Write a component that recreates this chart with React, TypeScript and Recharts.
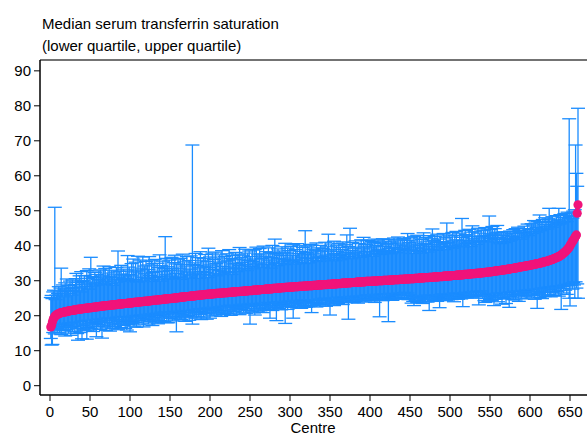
import React from "react";
import { ScatterChart, Scatter, XAxis, YAxis, ErrorBar, ReferenceLine } from "recharts";

// Median serum transferrin saturation per centre (sorted)
const median: number[] = [
  16.8, 17.3, 18.2, 18.9, 19.4, 19.8, 20.0, 20.2, 20.4, 20.5,
  20.6, 20.7, 20.8, 20.9, 20.9, 21.0, 21.0, 21.1, 21.1, 21.2,
  21.2, 21.3, 21.3, 21.4, 21.4, 21.5, 21.5, 21.5, 21.6, 21.6,
  21.7, 21.7, 21.7, 21.8, 21.8, 21.8, 21.9, 21.9, 21.9, 22.0,
  22.0, 22.0, 22.1, 22.1, 22.1, 22.2, 22.2, 22.2, 22.3, 22.3,
  22.3, 22.3, 22.4, 22.4, 22.4, 22.5, 22.5, 22.5, 22.6, 22.6,
  22.6, 22.7, 22.7, 22.7, 22.7, 22.8, 22.8, 22.8, 22.9, 22.9,
  22.9, 22.9, 23.0, 23.0, 23.0, 23.0, 23.1, 23.1, 23.1, 23.1,
  23.2, 23.2, 23.2, 23.2, 23.3, 23.3, 23.3, 23.3, 23.4, 23.4,
  23.4, 23.4, 23.5, 23.5, 23.5, 23.5, 23.6, 23.6, 23.6, 23.6,
  23.7, 23.7, 23.7, 23.7, 23.8, 23.8, 23.8, 23.8, 23.9, 23.9,
  23.9, 23.9, 24.0, 24.0, 24.0, 24.0, 24.1, 24.1, 24.1, 24.1,
  24.2, 24.2, 24.2, 24.2, 24.3, 24.3, 24.3, 24.4, 24.4, 24.4,
  24.4, 24.5, 24.5, 24.5, 24.5, 24.6, 24.6, 24.6, 24.6, 24.7,
  24.7, 24.7, 24.7, 24.8, 24.8, 24.8, 24.8, 24.9, 24.9, 24.9,
  24.9, 25.0, 25.0, 25.0, 25.0, 25.1, 25.1, 25.1, 25.1, 25.2,
  25.2, 25.2, 25.3, 25.3, 25.3, 25.3, 25.4, 25.4, 25.4, 25.4,
  25.5, 25.5, 25.5, 25.5, 25.6, 25.6, 25.6, 25.6, 25.7, 25.7,
  25.7, 25.7, 25.8, 25.8, 25.8, 25.8, 25.9, 25.9, 25.9, 25.9,
  26.0, 26.0, 26.0, 26.0, 26.1, 26.1, 26.1, 26.1, 26.2, 26.2,
  26.2, 26.2, 26.2, 26.3, 26.3, 26.3, 26.3, 26.4, 26.4, 26.4,
  26.4, 26.4, 26.5, 26.5, 26.5, 26.5, 26.5, 26.6, 26.6, 26.6,
  26.6, 26.6, 26.7, 26.7, 26.7, 26.7, 26.7, 26.8, 26.8, 26.8,
  26.8, 26.8, 26.9, 26.9, 26.9, 26.9, 26.9, 27.0, 27.0, 27.0,
  27.0, 27.0, 27.1, 27.1, 27.1, 27.1, 27.1, 27.2, 27.2, 27.2,
  27.2, 27.2, 27.2, 27.3, 27.3, 27.3, 27.3, 27.3, 27.4, 27.4,
  27.4, 27.4, 27.4, 27.5, 27.5, 27.5, 27.5, 27.5, 27.6, 27.6,
  27.6, 27.6, 27.6, 27.7, 27.7, 27.7, 27.7, 27.7, 27.8, 27.8,
  27.8, 27.8, 27.8, 27.9, 27.9, 27.9, 27.9, 27.9, 28.0, 28.0,
  28.0, 28.0, 28.0, 28.1, 28.1, 28.1, 28.1, 28.1, 28.2, 28.2,
  28.2, 28.2, 28.2, 28.2, 28.3, 28.3, 28.3, 28.3, 28.3, 28.3,
  28.4, 28.4, 28.4, 28.4, 28.4, 28.4, 28.5, 28.5, 28.5, 28.5,
  28.5, 28.5, 28.6, 28.6, 28.6, 28.6, 28.6, 28.6, 28.7, 28.7,
  28.7, 28.7, 28.7, 28.7, 28.8, 28.8, 28.8, 28.8, 28.8, 28.8,
  28.9, 28.9, 28.9, 28.9, 28.9, 28.9, 29.0, 29.0, 29.0, 29.0,
  29.0, 29.0, 29.1, 29.1, 29.1, 29.1, 29.1, 29.1, 29.2, 29.2,
  29.2, 29.2, 29.2, 29.2, 29.3, 29.3, 29.3, 29.3, 29.3, 29.3,
  29.4, 29.4, 29.4, 29.4, 29.4, 29.4, 29.5, 29.5, 29.5, 29.5,
  29.5, 29.5, 29.6, 29.6, 29.6, 29.6, 29.6, 29.6, 29.7, 29.7,
  29.7, 29.7, 29.7, 29.7, 29.8, 29.8, 29.8, 29.8, 29.8, 29.8,
  29.8, 29.8, 29.9, 29.9, 29.9, 29.9, 29.9, 29.9, 29.9, 30.0,
  30.0, 30.0, 30.0, 30.0, 30.0, 30.0, 30.1, 30.1, 30.1, 30.1,
  30.1, 30.1, 30.1, 30.2, 30.2, 30.2, 30.2, 30.2, 30.2, 30.3,
  30.3, 30.3, 30.3, 30.3, 30.3, 30.3, 30.4, 30.4, 30.4, 30.4,
  30.4, 30.4, 30.5, 30.5, 30.5, 30.5, 30.5, 30.5, 30.5, 30.6,
  30.6, 30.6, 30.6, 30.6, 30.6, 30.7, 30.7, 30.7, 30.7, 30.7,
  30.7, 30.8, 30.8, 30.8, 30.8, 30.8, 30.8, 30.9, 30.9, 30.9,
  30.9, 30.9, 30.9, 31.0, 31.0, 31.0, 31.0, 31.0, 31.0, 31.1,
  31.1, 31.1, 31.1, 31.1, 31.1, 31.2, 31.2, 31.2, 31.2, 31.2,
  31.2, 31.3, 31.3, 31.3, 31.3, 31.3, 31.3, 31.4, 31.4, 31.4,
  31.4, 31.4, 31.5, 31.5, 31.5, 31.5, 31.5, 31.6, 31.6, 31.6,
  31.6, 31.6, 31.7, 31.7, 31.7, 31.7, 31.7, 31.8, 31.8, 31.8,
  31.8, 31.8, 31.9, 31.9, 31.9, 31.9, 32.0, 32.0, 32.0, 32.0,
  32.0, 32.1, 32.1, 32.1, 32.1, 32.2, 32.2, 32.2, 32.2, 32.3,
  32.3, 32.3, 32.3, 32.4, 32.4, 32.4, 32.5, 32.5, 32.5, 32.5,
  32.6, 32.6, 32.6, 32.7, 32.7, 32.7, 32.8, 32.8, 32.8, 32.9,
  32.9, 32.9, 33.0, 33.0, 33.0, 33.1, 33.1, 33.1, 33.2, 33.2,
  33.2, 33.3, 33.3, 33.3, 33.4, 33.4, 33.5, 33.5, 33.5, 33.6,
  33.6, 33.7, 33.7, 33.7, 33.8, 33.8, 33.9, 33.9, 34.0, 34.0,
  34.0, 34.1, 34.1, 34.2, 34.2, 34.3, 34.3, 34.3, 34.4, 34.4,
  34.5, 34.5, 34.6, 34.6, 34.7, 34.7, 34.8, 34.8, 34.9, 34.9,
  35.0, 35.0, 35.1, 35.1, 35.2, 35.3, 35.3, 35.4, 35.4, 35.5,
  35.6, 35.6, 35.7, 35.8, 35.9, 35.9, 36.0, 36.1, 36.2, 36.3,
  36.4, 36.5, 36.6, 36.7, 36.8, 36.9, 37.0, 37.2, 37.3, 37.5,
  37.7, 37.9, 38.1, 38.3, 38.5, 38.8, 39.0, 39.3, 39.6, 40.0,
  40.4, 40.8, 41.2, 41.5, 41.9, 42.3, 42.7, 43.1, 49.3, 51.7,
];

// Lower quartile per centre
const lowerQuartile: number[] = [
  13.5, 11.6, 11.8, 15.2, 16.0, 14.8, 15.9, 16.4, 15.1, 17.0,
  16.9, 15.3, 17.5, 14.6, 16.2, 17.8, 15.8, 16.6, 14.2, 17.1,
  16.1, 17.4, 15.0, 18.0, 16.7, 14.4, 17.3, 15.6, 16.9, 18.2,
  15.4, 17.6, 16.3, 14.9, 13.0, 17.9, 16.8, 15.2, 18.4, 13.4,
  17.2, 16.0, 18.5, 15.7, 17.4, 13.3, 16.6, 18.8, 15.9, 17.7,
  16.4, 18.1, 17.0, 15.5, 18.9, 16.2, 17.8, 14.0, 18.3, 16.9,
  17.5, 19.0, 16.1, 18.6, 13.6, 17.3, 19.2, 16.8, 18.0, 15.8,
  18.2, 16.5, 19.4, 17.1, 15.6, 18.7, 17.9, 16.3, 19.1, 17.6,
  16.9, 18.9, 17.4, 19.6, 16.0, 18.3, 17.7, 19.8, 16.6, 18.5,
  18.0, 17.2, 19.5, 16.4, 18.8, 15.9, 19.3, 17.5, 18.6, 15.4,
  19.0, 17.8, 18.4, 20.1, 17.0, 19.7, 18.1, 16.7, 19.9, 18.6,
  17.4, 19.6, 18.8, 20.3, 17.9, 19.2, 16.8, 20.0, 18.5, 19.4,
  18.9, 20.4, 17.6, 19.8, 18.3, 20.6, 19.1, 17.2, 20.2, 18.7,
  19.5, 18.0, 20.7, 19.0, 17.7, 20.1, 18.6, 19.9, 21.0, 18.2,
  20.3, 19.3, 18.4, 21.1, 19.7, 18.0, 20.5, 18.0, 19.6, 20.8,
  19.2, 20.9, 18.5, 20.2, 19.8, 21.3, 18.8, 15.4, 20.6, 19.4,
  20.7, 19.1, 21.2, 18.9, 20.4, 19.6, 21.5, 20.0, 18.4, 20.9,
  19.8, 21.4, 20.1, 18.7, 21.0, 19.4, 20.8, 17.6, 21.6, 19.9,
  20.5, 21.8, 19.3, 20.9, 22.0, 19.7, 21.2, 20.3, 18.9, 21.7,
  21.0, 19.6, 22.1, 20.6, 21.9, 19.0, 20.8, 22.3, 21.4, 19.3,
  21.6, 20.2, 22.4, 21.1, 19.9, 22.0, 20.7, 20.2, 21.8, 22.6,
  20.9, 22.2, 21.5, 19.8, 22.7, 21.3, 20.4, 22.5, 21.0, 22.9,
  21.9, 20.6, 22.8, 21.4, 23.0, 20.1, 22.3, 21.7, 20.8, 22.6,
  21.2, 22.9, 20.5, 22.1, 23.2, 21.6, 20.3, 22.7, 21.8, 23.1,
  22.4, 21.0, 23.3, 22.0, 20.7, 23.0, 21.5, 22.8, 23.4, 17.6,
  22.6, 21.3, 23.5, 22.0, 20.8, 20.2, 23.2, 21.7, 22.9, 21.1,
  23.1, 22.2, 21.4, 23.6, 22.5, 20.9, 23.3, 22.0, 21.6, 23.8,
  22.3, 23.0, 21.8, 23.7, 19.3, 22.7, 23.4, 21.5, 22.9, 23.9,
  21.9, 23.5, 18.6, 22.4, 23.8, 22.1, 23.2, 24.0, 21.7, 23.3,
  22.8, 24.1, 23.0, 17.8, 22.6, 23.6, 21.8, 24.2, 22.9, 23.4,
  23.7, 22.4, 24.3, 19.3, 23.1, 22.5, 24.4, 23.5, 22.2, 23.9,
  22.7, 24.0, 23.3, 22.1, 24.5, 23.7, 22.9, 24.2, 23.0, 22.4,
  24.1, 23.4, 22.6, 24.6, 23.8, 22.8, 20.9, 23.6, 24.3, 23.0,
  23.9, 24.6, 22.5, 23.5, 24.8, 23.2, 22.8, 24.4, 23.7, 24.9,
  23.1, 24.2, 25.0, 23.6, 22.7, 24.7, 23.9, 24.4, 23.3, 20.2,
  24.5, 23.4, 25.1, 24.0, 22.9, 24.8, 23.7, 25.2, 24.1, 23.5,
  24.6, 25.3, 23.8, 24.3, 25.0, 23.2, 24.9, 25.4, 24.2, 23.7,
  24.4, 25.1, 19.0, 24.7, 23.9, 25.5, 24.0, 25.2, 24.6, 23.8,
  25.3, 24.1, 25.6, 24.8, 23.6, 25.0, 24.5, 25.7, 24.2, 25.4,
  24.3, 25.8, 24.9, 23.9, 25.5, 24.7, 26.0, 25.1, 24.4, 25.9,
  25.0, 24.2, 25.7, 24.6, 26.1, 23.8, 25.3, 24.9, 26.0, 24.5,
  25.4, 19.7, 24.8, 26.2, 25.1, 24.3, 25.9, 24.7, 26.3, 25.2,
  24.9, 26.0, 18.3, 25.5, 24.6, 26.4, 25.0, 24.4, 25.8, 26.1,
  25.6, 24.8, 26.3, 25.2, 26.5, 24.7, 25.9, 26.2, 25.0, 26.6,
  25.3, 26.4, 24.9, 26.7, 25.8, 25.1, 26.5, 24.6, 26.0, 25.7,
  24.8, 23.6, 25.5, 24.1, 22.9, 25.0, 24.4, 25.7, 23.8, 25.2,
  24.3, 25.5, 23.7, 24.9, 25.8, 23.5, 24.6, 25.3, 24.0, 25.9,
  24.7, 23.9, 25.4, 21.5, 25.0, 25.9, 24.2, 24.8, 25.6, 24.4,
  25.5, 24.6, 26.0, 24.1, 25.2, 25.7, 22.3, 24.9, 26.1, 24.5,
  25.1, 26.2, 24.7, 25.6, 24.3, 25.9, 25.4, 24.8, 26.3, 25.0,
  25.7, 24.6, 26.4, 25.3, 24.0, 26.0, 24.9, 26.5, 25.5, 24.7,
  26.1, 25.2, 26.6, 24.8, 25.8, 22.6, 26.3, 25.4, 26.7, 25.6,
  25.1, 26.5, 25.9, 25.0, 26.8, 25.6, 25.3, 26.9, 26.0, 25.5,
  26.6, 25.8, 25.4, 27.0, 26.2, 23.1, 26.7, 25.6, 27.1, 26.1,
  25.0, 26.1, 24.3, 23.8, 25.7, 24.9, 26.2, 24.1, 25.4, 24.6,
  25.8, 24.4, 26.3, 25.2, 22.9, 25.9, 24.7, 26.4, 25.3, 24.0,
  25.6, 26.5, 24.8, 25.9, 23.3, 25.2, 26.6, 24.9, 26.0, 23.5,
  26.1, 25.0, 26.7, 22.4, 25.5, 26.8, 25.3, 26.2, 24.6, 26.9,
  25.7, 24.5, 27.0, 25.9, 26.3, 24.1, 25.8, 27.1, 25.0, 26.4,
  26.0, 27.2, 25.4, 26.6, 27.3, 24.8, 26.9, 25.6, 27.4, 26.2,
  26.5, 25.1, 27.5, 25.8, 26.9, 24.7, 27.6, 26.0, 22.1, 27.0,
  26.3, 25.2, 27.8, 26.6, 24.9, 27.4, 25.9, 28.0, 25.5, 26.8,
  27.1, 25.7, 28.2, 26.0, 27.5, 25.4, 28.3, 26.7, 27.9, 25.8,
  27.7, 26.2, 28.5, 26.9, 28.1, 25.6, 28.6, 27.2, 21.8, 27.8,
  28.4, 26.5, 28.8, 27.3, 28.9, 26.1, 28.5, 29.0, 25.0, 22.8,
  28.7, 29.3, 27.6, 29.5, 28.8, 25.0, 29.7, 27.9, 29.1, 25.0,
];

// Upper quartile per centre
const upperQuartile: number[] = [
  25.2, 25.8, 24.9, 26.8, 27.3, 51.0, 24.6, 25.9, 27.1, 26.4,
  28.3, 25.7, 27.9, 33.6, 26.2, 28.8, 25.4, 27.6, 29.4, 26.9,
  30.5, 27.2, 28.6, 26.4, 29.9, 27.8, 25.9, 30.2, 28.1, 27.0,
  28.9, 30.6, 32.1, 27.3, 29.5, 28.2, 31.4, 26.8, 32.6, 29.8,
  30.1, 27.9, 31.5, 29.0, 28.4, 32.9, 30.7, 27.6, 33.4, 29.3,
  36.7, 29.6, 31.2, 28.5, 30.9, 32.4, 29.1, 31.8, 28.8, 30.4,
  32.8, 30.0, 33.1, 29.4, 31.6, 30.8, 34.2, 28.9, 33.5, 31.1,
  29.8, 32.2, 30.5, 34.0, 31.3, 29.2, 33.0, 30.9, 28.7, 32.5,
  31.7, 30.2, 33.8, 29.6, 38.5, 31.0, 32.7, 30.3, 34.4, 31.9,
  30.6, 33.3, 31.4, 29.9, 32.8, 30.7, 37.2, 31.8, 33.9, 30.1,
  31.4, 34.9, 29.8, 36.2, 32.5, 30.4, 35.3, 33.1, 29.6, 37.0,
  32.8, 30.2, 35.9, 33.6, 31.0, 36.8, 29.9, 34.2, 32.0, 35.5,
  30.7, 34.5, 33.2, 36.9, 31.5, 29.8, 35.7, 32.4, 34.9, 30.9,
  36.1, 32.6, 30.3, 35.0, 33.8, 31.2, 37.4, 29.9, 34.3, 32.7,
  35.6, 30.8, 33.5, 42.6, 31.7, 36.4, 34.0, 30.5, 35.9, 32.9,
  31.3, 36.7, 33.4, 30.6, 35.2, 37.3, 32.1, 34.8, 30.9, 36.0,
  33.6, 31.1, 36.4, 34.7, 30.4, 37.6, 32.8, 35.4, 31.7, 34.2,
  36.9, 32.5, 30.8, 35.8, 33.3, 37.1, 31.4, 68.8, 34.6, 32.2,
  35.1, 37.8, 31.9, 34.4, 36.6, 30.7, 33.7, 38.3, 32.6, 35.7,
  31.8, 36.3, 34.0, 37.5, 32.4, 35.5, 30.9, 39.3, 33.8, 36.8,
  34.5, 31.6, 37.9, 33.2, 36.1, 32.0, 38.2, 34.9, 31.4, 36.5,
  33.0, 37.4, 35.3, 31.9, 38.6, 34.1, 32.7, 36.9, 35.6, 33.4,
  37.7, 32.3, 35.9, 38.9, 33.6, 36.4, 31.8, 37.2, 34.8, 36.0,
  33.9, 38.1, 35.0, 32.6, 37.6, 34.4, 39.5, 33.1, 36.7, 35.2,
  37.3, 33.5, 36.2, 39.0, 34.7, 32.9, 37.9, 35.8, 38.5, 34.0,
  36.9, 34.2, 38.8, 35.5, 33.4, 38.9, 36.2, 39.6, 34.8, 37.4,
  35.1, 39.2, 33.8, 37.7, 36.4, 34.5, 39.9, 36.8, 33.9, 38.3,
  37.0, 34.7, 39.4, 35.9, 38.1, 33.6, 36.6, 40.1, 35.3, 37.8,
  41.9, 35.0, 37.6, 34.3, 39.1, 36.3, 38.5, 34.9, 37.2, 39.7,
  35.6, 38.0, 36.1, 40.7, 34.6, 37.9, 39.3, 35.8, 38.6, 36.5,
  39.8, 35.4, 37.3, 40.3, 36.0, 34.8, 38.9, 37.1, 40.6, 35.7,
  37.8, 40.0, 35.2, 38.4, 36.7, 39.5, 34.9, 37.6, 44.3, 38.1,
  36.3, 39.9, 37.4, 35.1, 40.4, 38.2, 40.2, 36.5, 39.0, 37.7,
  35.8, 38.7, 40.8, 36.6, 39.4, 37.0, 35.5, 40.1, 38.3, 36.9,
  39.2, 36.4, 38.8, 41.0, 37.3, 35.9, 39.7, 43.3, 36.8, 38.5,
  37.6, 40.5, 36.2, 39.0, 41.3, 37.8, 35.7, 40.0, 38.4, 36.6,
  40.7, 37.2, 39.5, 36.0, 38.9, 41.1, 37.5, 36.4, 40.3, 38.1,
  43.1, 36.9, 39.8, 37.7, 45.0, 38.6, 36.3, 40.9, 37.4, 39.3,
  38.0, 41.4, 36.8, 39.6, 37.9, 40.6, 38.5, 36.7, 41.7, 39.1,
  37.3, 42.4, 39.9, 37.1, 40.4, 38.3, 41.5, 37.6, 39.4, 40.8,
  38.2, 41.2, 37.0, 39.7, 40.9, 41.9, 37.8, 40.1, 38.7, 41.6,
  39.0, 37.5, 41.0, 38.4, 40.6, 42.0, 38.1, 39.8, 41.3, 37.9,
  40.3, 38.6, 41.8, 39.2, 40.7, 37.7, 41.1, 39.6, 38.3, 42.2,
  39.5, 41.4, 38.0, 40.8, 42.5, 38.9, 40.2, 41.7, 39.1, 40.5,
  41.9, 39.3, 42.1, 40.0, 38.7, 41.5, 43.5, 39.7, 40.9, 42.3,
  39.0, 41.6, 37.8, 40.5, 42.7, 38.6, 41.1, 39.4, 43.0, 40.2,
  38.4, 42.2, 40.0, 37.9, 41.8, 39.3, 43.7, 40.7, 38.8, 42.4,
  40.4, 38.2, 42.9, 39.7, 41.3, 38.9, 42.0, 44.8, 39.9, 41.5,
  42.6, 39.1, 40.9, 43.3, 38.7, 41.9, 40.3, 42.8, 39.6, 41.2,
  39.8, 43.5, 40.6, 38.9, 42.3, 46.5, 41.0, 39.5, 43.1, 40.8,
  42.5, 40.0, 43.8, 41.4, 39.3, 42.9, 40.5, 44.1, 41.7, 39.9,
  41.1, 43.6, 40.2, 42.4, 47.8, 39.7, 43.0, 41.5, 44.4, 40.6,
  43.2, 40.9, 42.6, 44.7, 41.3, 39.8, 43.9, 45.7, 42.0, 41.0,
  44.0, 41.6, 42.8, 40.4, 45.0, 42.2, 43.6, 41.2, 44.5, 42.7,
  41.5, 44.3, 42.5, 45.2, 43.0, 41.1, 44.8, 42.9, 48.5, 43.4,
  44.6, 42.1, 45.5, 43.3, 41.8, 44.9, 43.7, 42.4, 45.8, 43.9,
  41.0, 42.4, 40.6, 43.7, 41.2, 42.9, 44.0, 41.8, 40.9, 43.3,
  42.1, 44.0, 41.3, 42.8, 44.2, 41.6, 43.5, 42.6, 44.6, 41.9,
  44.0, 44.9, 42.3, 43.6, 45.3, 42.8, 44.4, 41.9, 43.8, 44.0,
  42.5, 43.7, 45.6, 43.1, 44.9, 43.4, 46.2, 42.9, 44.7, 44.1,
  44.6, 46.3, 43.5, 45.9, 47.2, 44.1, 46.8, 45.2, 43.9, 47.0,
  45.4, 48.8, 44.3, 46.6, 45.0, 47.5, 44.7, 46.1, 48.0, 45.6,
  46.9, 44.8, 47.7, 50.7, 45.5, 47.1, 46.0, 48.3, 45.3, 46.7,
  47.6, 45.9, 48.6, 46.4, 47.3, 50.7, 46.2, 48.9, 47.0, 46.5,
  48.1, 46.8, 49.2, 47.4, 48.7, 46.9, 49.6, 47.8, 76.3, 48.4,
  48.7, 49.4, 47.9, 49.9, 48.6, 50.3, 68.8, 60.7, 57.0, 79.3,
];

const xTicks = [0, 50, 100, 150, 200, 250, 300, 350, 400, 450, 500, 550, 600, 650];
const yTicks = [0, 10, 20, 30, 40, 50, 60, 70, 80, 90];
const titleLines = ["Median serum transferrin saturation", "(lower quartile, upper quartile)"];
const xAxisTitle = "Centre";

const FONT = "'Liberation Sans', Arial, Helvetica, sans-serif";
const BLUE = "#1a8cff";
const PINK = "#f0147a";
const Y_MIN = -2.66;
const Y_MAX = 93.1;

const data = median.map((m, i) => ({
  centre: i + 1,
  median: m,
  iqr: [Math.max(0, +(m - lowerQuartile[i]).toFixed(2)), Math.max(0, +(upperQuartile[i] - m).toFixed(2))],
}));

const NoShape = () => <g />;
const Dot = (p: any) => <circle cx={p.cx} cy={p.cy} r={4.6} fill={PINK} />;

export default function App() {
  return (
    <div style={{ position: "absolute", left: 0, top: 0, width: 587, height: 436, overflow: "hidden", background: "#fff" }}>
      <ScatterChart width={600} height={436} margin={{ top: 60, right: 0, bottom: 0, left: 0 }} data={data}>
        <XAxis
          type="number"
          dataKey="centre"
          domain={[-12.5, 687.5]}
          allowDataOverflow
          ticks={xTicks}
          interval={0}
          height={41}
          tickSize={6}
          tickMargin={5}
          axisLine={{ stroke: "#000", strokeWidth: 1.5 }}
          tickLine={{ stroke: "#000", strokeWidth: 1 }}
          tick={{ fill: "#000", fontSize: 15, fontFamily: FONT }}
        />
        <YAxis
          type="number"
          dataKey="median"
          domain={[Y_MIN, Y_MAX]}
          allowDataOverflow
          ticks={yTicks}
          interval={0}
          width={40}
          tickSize={6}
          tickMargin={3}
          axisLine={{ stroke: "#000", strokeWidth: 1.5 }}
          tickLine={{ stroke: "#000", strokeWidth: 1 }}
          tick={{ fill: "#000", fontSize: 15, fontFamily: FONT }}
        />
        <ReferenceLine y={Y_MAX} stroke="#444" strokeWidth={1.5} ifOverflow="visible" />
        <Scatter isAnimationActive={false} shape={NoShape}>
          <ErrorBar dataKey="iqr" direction="y" width={7} stroke={BLUE} strokeWidth={1.3} isAnimationActive={false} />
        </Scatter>
        <Scatter isAnimationActive={false} fill={PINK} shape={Dot} />
      </ScatterChart>
      <svg width={587} height={436} style={{ position: "absolute", left: 0, top: 0, pointerEvents: "none" }}>
        <text x={42} y={29} fontSize={15} fontFamily={FONT} fill="#000">{titleLines[0]}</text>
        <text x={42} y={51} fontSize={15} fontFamily={FONT} fill="#000">{titleLines[1]}</text>
        <text x={313} y={433} fontSize={15} fontFamily={FONT} fill="#000" textAnchor="middle">{xAxisTitle}</text>
      </svg>
    </div>
  );
}
